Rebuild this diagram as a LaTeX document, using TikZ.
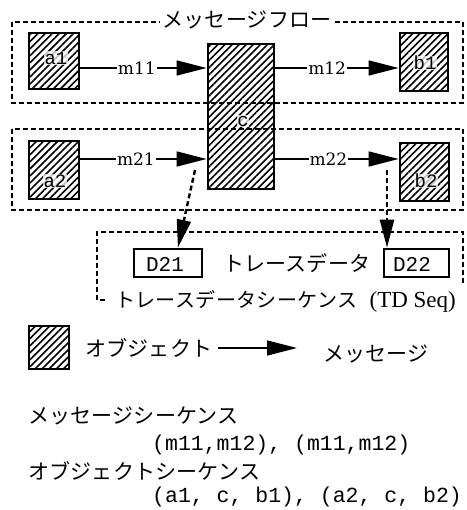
\documentclass[tikz,border=0pt]{standalone}
\usepackage{fontspec}
\setmainfont{Liberation Serif}
\setmonofont{Liberation Mono}
\newfontfamily\jp[LetterSpace=1]{Noto Sans CJK JP}
\newfontfamily\jpw[LetterSpace=2]{Noto Sans CJK JP}
\newfontfamily\dvs{DejaVu Serif}
\usetikzlibrary{patterns.meta,arrows.meta,calc}
\begin{document}
\begin{tikzpicture}[x=1pt,y=-1pt,
  obj/.style={draw,line width=2.8pt,pattern={Lines[angle=45,distance=5pt,line width=1.6pt]},inner sep=0pt},
  dbox/.style={draw,line width=2.6pt,inner sep=0pt},
  msg/.style={line width=1.6pt,-{Triangle[length=30pt,width=15pt]}},
  dflow/.style={line width=2.4pt,dash pattern=on 5pt off 3pt},
  darrow/.style={line width=2.4pt,dash pattern=on 5pt off 3pt,-{Triangle[length=28pt,width=14pt]}},
  mlab/.style={font=\dvs\fontsize{17}{17}\selectfont,fill=white,inner sep=1pt},
  olab/.style={font=\ttfamily\fontsize{19}{19}\selectfont,fill=white,fill opacity=0.75,text opacity=1,inner sep=0.5pt},
  jtxt/.style={font=\jp\fontsize{21}{21}\selectfont,inner sep=0pt,anchor=west},
  ttxt/.style={font=\ttfamily\fontsize{21.5}{21.5}\selectfont,inner sep=0pt,anchor=west}
]
\useasboundingbox (0,0) rectangle (466,510);

% objects
\node[obj,minimum width=50pt,minimum height=56pt] (a1) at (54,61) {};
\node[obj,minimum width=66pt,minimum height=145pt] (c) at (241,116.5) {};
\node[obj,minimum width=48pt,minimum height=58pt] (b1) at (424,62) {};
\node[obj,minimum width=50pt,minimum height=58pt] (a2) at (54,170) {};
\node[obj,minimum width=49pt,minimum height=58pt] (b2) at (424.5,172) {};

\node[olab] (a1t) at (56,58) {a1};
\node[olab] (b1t) at (425,63) {b1};
\node[olab] (a2t) at (55,181) {a2};
\node[olab] (b2t) at (426,181) {b2};

% message flow boxes (drawn over c)
\draw[dflow] (12,22) rectangle (463,103);
\draw[dflow] (12,129) rectangle (463,210);
\node[font=\jp\fontsize{21}{21}\selectfont,fill=white,inner sep=2pt] (title) at (247,20) {メッセージフロー};
\node[olab] (ct) at (243,121) {c};

% message rows
\coordinate (r1) at (0,68);
\coordinate (r2) at (0,159);
\draw[msg] (a1.east |- r1) -- node[mlab,pos=0.45] (m11) {m11} (c.west |- r1);
\draw[msg] (c.east |- r1) -- node[mlab,pos=0.42] (m12) {m12} (b1.west |- r1);
\draw[msg] (a2.east |- r2) -- node[mlab,pos=0.44] (m21) {m21} (c.west |- r2);
\draw[msg] (c.east |- r2) -- node[mlab,pos=0.43] (m22) {m22} (b2.west |- r2);

% trace data
\node[dbox,minimum width=68pt,minimum height=28pt] (D21) at (168,263) {};
\node[font=\ttfamily\fontsize{21}{21}\selectfont,inner sep=0pt] (D21t) at (165,264) {D21};
\node[dbox,minimum width=65pt,minimum height=28pt] (D22) at (416.5,263) {};
\node[font=\ttfamily\fontsize{21}{21}\selectfont,inner sep=0pt] (D22t) at (412,264) {D22};
\node[jtxt] (tdlab) at (223,263) {トレースデータ};

\draw[dflow] (463,283) -- (463,232) -- (97,232) -- (97,300) -- (106,300);
\node[anchor=west,inner sep=0pt,fill=white] (tdseq) at (115,301) {\jpw\fontsize{20}{20}\selectfont トレースデータシーケンス\hspace{12pt}\rmfamily\fontsize{23}{23}\selectfont (TD Seq)};

\coordinate (s1) at (195,170);
\coordinate (s2) at (387,170);
\draw[darrow] (s1) -- ($(D21.north west)!0.64!(D21.north east)$);
\draw[darrow] (s2) -- (s2 |- D22.north);

% legend
\node[obj,minimum width=40pt,minimum height=43pt] (lobj) at (49,347.5) {};
\node[jtxt] (lobjt) at (85,348) {オブジェクト};
\coordinate (la) at (218,348);
\coordinate (lb) at (297,348);
\draw[msg] (la) -- (lb);
\node[jtxt] (lmsg) at (323,354) {メッセージ};

% sequences
\node[jtxt] (mseq) at (28,416) {メッセージシーケンス};
\node[ttxt] (mseqv) at (152,445) {(m11,m12), (m11,m12)};
\node[jtxt] (oseq) at (28,471) {オブジェクトシーケンス};
\node[ttxt] (oseqv) at (152,497) {(a1, c, b1), (a2, c, b2)};
\end{tikzpicture}
\end{document}
